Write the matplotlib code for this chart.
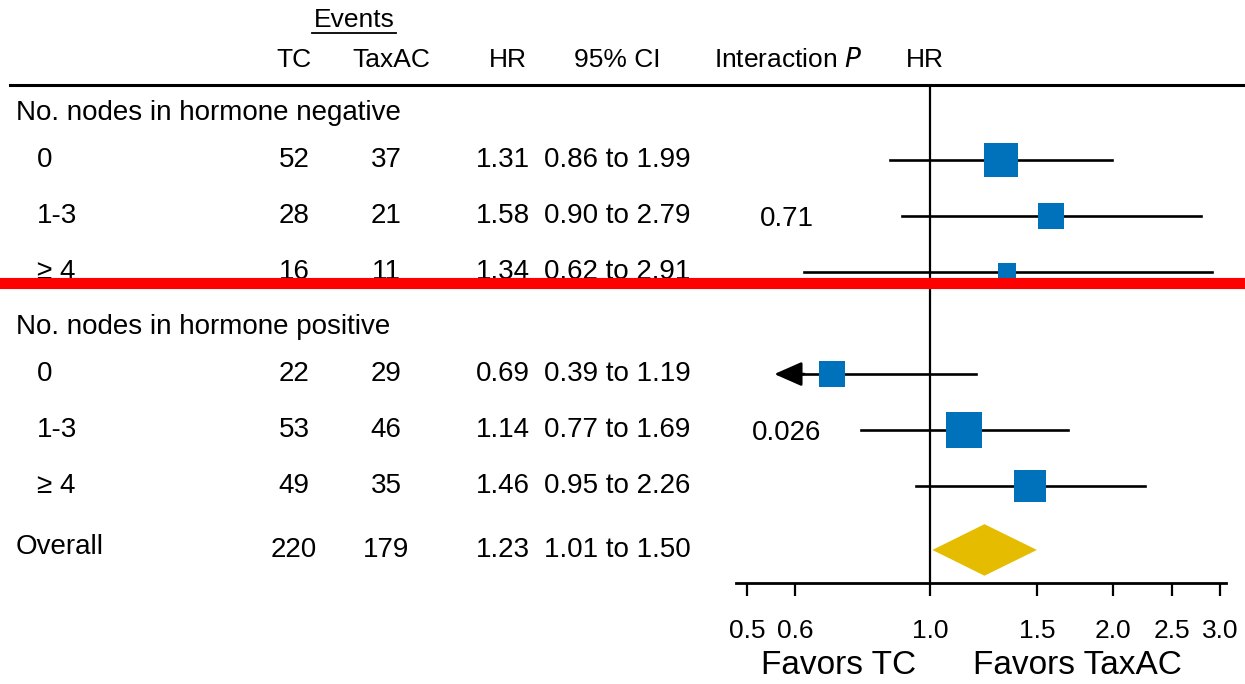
import matplotlib
matplotlib.use("Agg")
import matplotlib.pyplot as plt
from matplotlib import transforms, font_manager
from matplotlib.lines import Line2D
from matplotlib.patches import Polygon

# subgroup data
groups = ["No. nodes in hormone negative", "No. nodes in hormone positive"]
subgroups = ["0", "1-3", "\u2265 4"]
events_tc = [52, 28, 16, 22, 53, 49]
events_taxac = [37, 21, 11, 29, 46, 35]
hr = [1.31, 1.58, 1.34, 0.69, 1.14, 1.46]
ci_lo = [0.86, 0.90, 0.62, 0.39, 0.77, 0.95]
ci_hi = [1.99, 2.79, 2.91, 1.19, 1.69, 2.26]
p_interaction = ["0.71", "0.026"]

# overall estimate
overall_tc, overall_taxac = 220, 179
overall_hr, overall_lo, overall_hi = 1.23, 1.01, 1.50

xticks = [0.5, 0.6, 1.0, 1.5, 2.0, 2.5, 3.0]
xtick_labels = ["0.5", "0.6", "1.0", "1.5", "2.0", "2.5", "3.0"]

W, H = 1245, 684
installed = {f.name for f in font_manager.fontManager.ttflist}
narrow = "Liberation Sans Narrow" if "Liberation Sans Narrow" in installed else "Liberation Sans"
body = ["Liberation Sans", "DejaVu Sans"]

fig = plt.figure(figsize=(W / 100, H / 100), dpi=100)

# forest axes: x in pixels 736..1226, y in pixels 85..583
ax = fig.add_axes([736 / W, 1 - 583 / H, (1226 - 736) / W, (583 - 85) / H])
ax.set_xscale("log")
ax.set_xlim(0.48, 3.07)
ax.set_ylim(8.39, -0.5)

blue = "#0072BC"
gold = "#E6BC00"
arrow_tip = 0.555

# row layout: group header, then its subgroups, overall last
group_rows = []
rows = []
pos = 0.0
for g in groups:
    group_rows.append(pos)
    pos += 0.84
    for s in subgroups:
        rows.append(pos)
        pos += 1.0
    pos -= 0.02
overall_row = rows[-1] + 1.14

ax.axvline(1.0, color="black", lw=1.6, zorder=1)

for i, yy in enumerate(rows):
    lo = ci_lo[i]
    if lo < ax.get_xlim()[0]:
        ax.plot([arrow_tip * 1.08, ci_hi[i]], [yy, yy], color="black", lw=1.9, zorder=2)
        ax.annotate("", xy=(arrow_tip, yy), xytext=(arrow_tip * 1.12, yy),
                    arrowprops=dict(arrowstyle="-|>,head_length=1.7,head_width=0.75",
                                    color="black", lw=1.9, shrinkA=0, shrinkB=0))
    else:
        ax.plot([lo, ci_hi[i]], [yy, yy], color="black", lw=1.9, zorder=2)
    n = events_tc[i] + events_taxac[i]
    ax.scatter(hr[i], yy, s=6.7 * n, marker="s", color=blue, zorder=3, linewidths=0)

h = 0.46
diamond = Polygon([(overall_lo, overall_row), (overall_hr, overall_row - h),
                   (overall_hi, overall_row), (overall_hr, overall_row + h)],
                  closed=True, color=gold, lw=0, zorder=3)
ax.add_patch(diamond)

for side in ["top", "right", "left"]:
    ax.spines[side].set_visible(False)
ax.spines["bottom"].set_linewidth(2)
ax.set_yticks([])
ax.set_xticks(xticks)
ax.set_xticklabels(xtick_labels, fontfamily=body, fontsize=19)
ax.xaxis.set_minor_locator(matplotlib.ticker.NullLocator())
ax.tick_params(axis="x", length=9, width=1.6, pad=17)

# text columns share the forest y coordinates
tr = transforms.blended_transform_factory(fig.transFigure, ax.transData)


def fx(px):
    return px / W


def fy(py):
    return 1 - py / H


def cell(px, y, s, ha="center", size=20):
    fig.text(fx(px), y, s, transform=tr, fontsize=size, family=body, va="center", ha=ha)


for g, gy in zip(groups, group_rows):
    cell(16, gy, g, ha="left")

for i, yy in enumerate(rows):
    cell(37, yy, subgroups[i % 3], ha="left")
    cell(294, yy, str(events_tc[i]))
    cell(386, yy, str(events_taxac[i]))
    cell(503, yy, f"{hr[i]:.2f}")
    cell(617, yy, f"{ci_lo[i]:.2f} to {ci_hi[i]:.2f}")

for k, p in enumerate(p_interaction):
    cell(787, rows[3 * k + 1] + 0.05, p)

cell(16, overall_row - 0.05, "Overall", ha="left")
cell(294, overall_row, str(overall_tc))
cell(386, overall_row, str(overall_taxac))
cell(503, overall_row, f"{overall_hr:.2f}")
cell(617, overall_row, f"{overall_lo:.2f} to {overall_hi:.2f}")

# column headers
hs = 19
fig.text(fx(354), fy(20), "Events", fontsize=hs, family=narrow, ha="center", va="center")
fig.add_artist(Line2D([fx(312), fx(396)], [fy(33), fy(33)], color="black", lw=1.3))
fig.text(fx(294), fy(60), "TC", fontsize=hs, family=narrow, ha="center", va="center")
fig.text(fx(391), fy(60), "TaxAC", fontsize=hs, family=narrow, ha="center", va="center")
fig.text(fx(508), fy(60), "HR", fontsize=hs, family=narrow, ha="center", va="center")
fig.text(fx(617), fy(60), "95% CI", fontsize=hs, family=narrow, ha="center", va="center")
fig.text(fx(788), fy(60), "Interaction $\\it{P}$", fontsize=hs, family=narrow, ha="center", va="center")
fig.text(fx(925), fy(60), "HR", fontsize=hs, family=narrow, ha="center", va="center")
fig.add_artist(Line2D([fx(10), 1], [fy(85), fy(85)], color="black", lw=2.2))

fig.text(fx(839), fy(665), "Favors TC", fontsize=24, family=narrow, ha="center", va="center")
fig.text(fx(1077), fy(665), "Favors TaxAC", fontsize=24, family=narrow, ha="center", va="center")

# red divider across the whole figure
fig.add_artist(Line2D([0, 1], [fy(283), fy(283)], color="#FF0000", lw=8, zorder=10))

fig.savefig("out.png", dpi=100)
